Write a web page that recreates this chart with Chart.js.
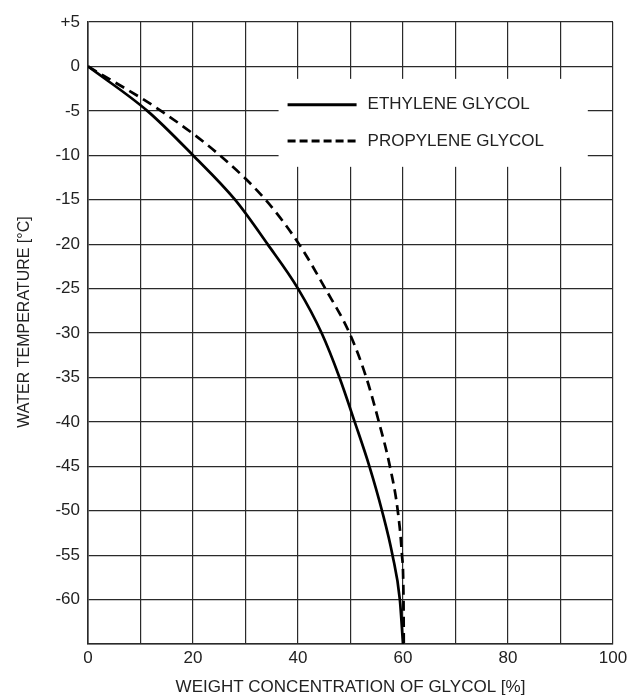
<!DOCTYPE html>
<html>
<head>
<meta charset="utf-8">
<script src="https://cdn.jsdelivr.net/npm/chart.js@4.4.1/dist/chart.umd.min.js"></script>
<style>
  html, body { margin: 0; padding: 0; background: #fff; }
  #wrap { width: 643px; height: 696px; }
</style>
</head>
<body>
<div id="wrap"><canvas id="c" width="643" height="696"></canvas></div>
<script>
// ---- data (gridline crossings of each curve) ----
const ethyleneConc = [0, 11.3, 20, 28.0, 34.2, 40, 44.5, 47.9, 50.8, 53.6, 56.0, 58.0, 59.4, 60];
const ethyleneTemp = [0, -5, -10, -15, -20, -25, -30, -35, -40, -45, -50, -55, -60, -65];
const propyleneConc = [0, 13.9, 25.1, 33.8, 40.2, 45.2, 49.8, 53.0, 55.4, 57.5, 59.0, 59.8, 60.1, 60.15];
const propyleneTemp = [0, -5, -10, -15, -20, -25, -30, -35, -40, -45, -50, -55, -60, -65];
const seriesLabels = ['ETHYLENE GLYCOL', 'PROPYLENE GLYCOL'];
const xTickLabels = [0, 20, 40, 60, 80, 100];
const yTickLabels = ['+5', '0', '-5', '-10', '-15', '-20', '-25', '-30', '-35', '-40', '-45', '-50', '-55', '-60'];
const xTitle = 'WEIGHT CONCENTRATION OF GLYCOL [%]';
const yTitle = 'WATER TEMPERATURE [°C]';

const FONT = "'Liberation Sans', Arial, sans-serif";
const TXT = '#222';

function pts(xs, ys) { return xs.map((x, i) => ({ x: x, y: ys[i] })); }

const legendBoxPlugin = {
  id: 'legendBox',
  beforeDatasetsDraw(chart) {
    const ctx = chart.ctx;
    const xs = chart.scales.x, ys = chart.scales.y;
    const x0 = xs.getPixelForValue(36.3), x1 = xs.getPixelForValue(95.2);
    const y0 = ys.getPixelForValue(-1.4), y1 = ys.getPixelForValue(-11.3);
    ctx.save();
    ctx.fillStyle = '#fff';
    ctx.fillRect(x0, y0, x1 - x0, y1 - y0);
    chart.data.datasets.forEach((ds, i) => {
      const yy = ys.getPixelForValue(-4.3 - i * 4.1);
      const lx0 = x0 + 9, lx1 = x0 + 78;
      ctx.beginPath();
      ctx.strokeStyle = ds.borderColor;
      ctx.lineWidth = 3;
      ctx.setLineDash(ds.borderDash && ds.borderDash.length ? [8, 4] : []);
      ctx.moveTo(lx0, yy);
      ctx.lineTo(lx1, yy);
      ctx.stroke();
      ctx.setLineDash([]);
      ctx.fillStyle = TXT;
      ctx.font = '17px ' + FONT;
      ctx.textBaseline = 'middle';
      ctx.textAlign = 'left';
      ctx.fillText(ds.label, x0 + 89, yy);
    });
    // y-axis title (drawn slightly above the plot centre, as in the reference)
    const ca = chart.chartArea;
    ctx.translate(25, (ca.top + ca.bottom) / 2 - 11);
    ctx.rotate(-Math.PI / 2);
    ctx.font = '16px ' + FONT;
    ctx.textAlign = 'center';
    ctx.textBaseline = 'middle';
    ctx.fillStyle = TXT;
    ctx.fillText(yTitle, 0, 0);
    ctx.restore();
  }
};

new Chart(document.getElementById('c'), {
  type: 'scatter',
  data: {
    datasets: [
      {
        label: seriesLabels[0],
        data: pts(ethyleneConc, ethyleneTemp),
        showLine: true,
        borderColor: '#000',
        borderWidth: 2.7,
        pointRadius: 0,
        cubicInterpolationMode: 'monotone'
      },
      {
        label: seriesLabels[1],
        data: pts(propyleneConc, propyleneTemp),
        showLine: true,
        borderColor: '#000',
        borderWidth: 2.7,
        borderDash: [10, 6],
        pointRadius: 0,
        cubicInterpolationMode: 'monotone'
      }
    ]
  },
  options: {
    responsive: false,
    animation: false,
    layout: { padding: { top: 22, right: 30, left: 0, bottom: 0 } },
    plugins: { legend: { display: false }, tooltip: { enabled: false } },
    scales: {
      x: {
        type: 'linear',
        min: 0, max: 100,
        afterFit(s) { s.height = 52; },
        ticks: {
          stepSize: 10,
          autoSkip: false,
          maxRotation: 0,
          padding: 4,
          color: TXT,
          font: { family: FONT, size: 17 },
          callback: (v) => xTickLabels.includes(v) ? String(v) : ''
        },
        grid: { color: '#2a2a2a', lineWidth: 1.2, drawTicks: false },
        border: { color: '#2a2a2a', width: 1.6 },
        title: {
          display: true, text: xTitle, color: TXT,
          font: { family: FONT, size: 17, lineHeight: 1 },
          padding: { top: 0, bottom: 0 }
        }
      },
      y: {
        type: 'linear',
        min: -65, max: 5,
        afterFit(s) { s.width = 88; },
        ticks: {
          stepSize: 5,
          autoSkip: false,
          padding: 8,
          color: TXT,
          font: { family: FONT, size: 17 },
          callback: (v) => {
            const lab = v > 0 ? '+' + v : String(v);
            return yTickLabels.includes(lab) ? lab : '';
          }
        },
        grid: { color: '#2a2a2a', lineWidth: 1.2, drawTicks: false },
        border: { color: '#2a2a2a', width: 1.6 },
        title: { display: false, text: yTitle }
      }
    }
  },
  plugins: [legendBoxPlugin]
});
</script>
</body>
</html>
